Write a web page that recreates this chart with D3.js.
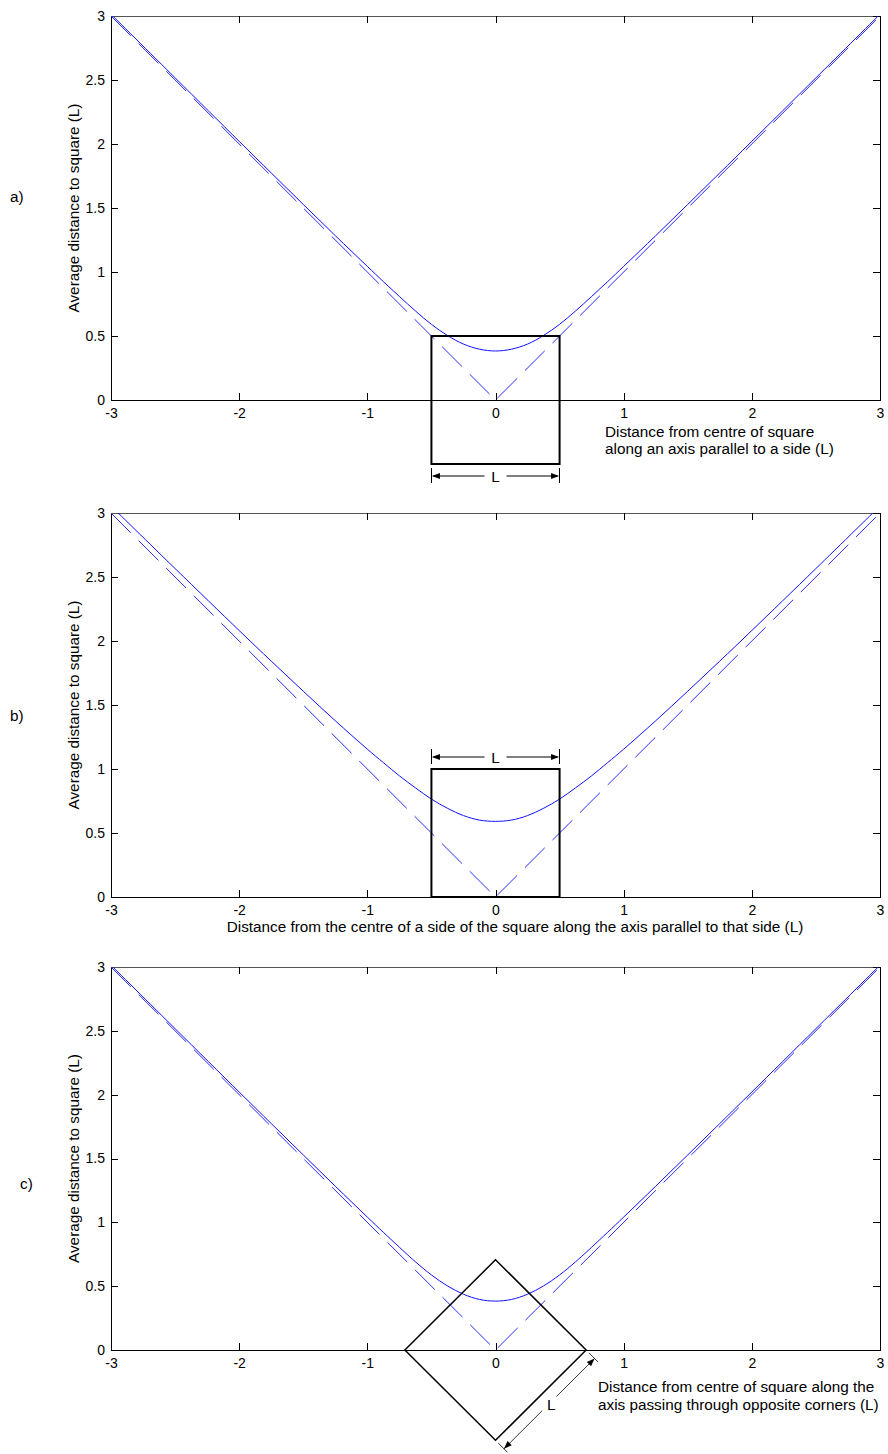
<!DOCTYPE html>
<html><head><meta charset="utf-8">
<script src="https://cdn.jsdelivr.net/npm/d3@7"></script>
<style>body{margin:0;background:#fff} svg{display:block} text{font-family:"Liberation Sans",Arial,Helvetica,sans-serif}</style>
</head><body><svg id="chart" width="888" height="1454"></svg>
<script>
// ---------- data ----------
const xTicks = [-3, -2, -1, 0, 1, 2, 3];
const xTickLabels = ["-3", "-2", "-1", "0", "1", "2", "3"];
const yTicks = [0, 0.5, 1, 1.5, 2, 2.5, 3];
const yTickLabels = ["0", "0.5", "1", "1.5", "2", "2.5", "3"];

const xsAB = [-3, -2.5, -2, -1.75, -1.5, -1.25, -1, -0.875, -0.75, -0.625, -0.5, -0.375, -0.25, -0.125, 0,
              0.125, 0.25, 0.375, 0.5, 0.625, 0.75, 0.875, 1, 1.25, 1.5, 1.75, 2, 2.5, 3];
const solidA = [3.014, 2.517, 2.021, 1.774, 1.528, 1.284, 1.044, 0.925, 0.809, 0.696, 0.591, 0.504, 0.437, 0.397, 0.383,
                0.397, 0.437, 0.504, 0.591, 0.696, 0.809, 0.925, 1.044, 1.284, 1.528, 1.774, 2.021, 2.517, 3.014];
const solidB = [3.055, 2.566, 2.082, 1.843, 1.608, 1.377, 1.155, 1.050, 0.947, 0.853, 0.765, 0.693, 0.636, 0.601, 0.591,
                0.601, 0.636, 0.693, 0.765, 0.853, 0.947, 1.050, 1.155, 1.377, 1.608, 1.843, 2.082, 2.566, 3.055];
const xsC = [-3, -2.5, -2, -1.75, -1.5, -1.25, -1, -0.875, -0.75, -0.7071, -0.625, -0.5, -0.375, -0.25, -0.125, 0,
             0.125, 0.25, 0.375, 0.5, 0.625, 0.7071, 0.75, 0.875, 1, 1.25, 1.5, 1.75, 2, 2.5, 3];
const solidC = [3.014, 2.517, 2.021, 1.774, 1.528, 1.283, 1.041, 0.922, 0.805, 0.765, 0.691, 0.588, 0.502, 0.437, 0.396, 0.383,
                0.396, 0.437, 0.502, 0.588, 0.691, 0.765, 0.805, 0.922, 1.041, 1.283, 1.528, 1.774, 2.021, 2.517, 3.014];
const dashX = [-3, 0, 3];
const dashY = [3, 0, 3];

const squareA = [[-0.5, -0.5], [0.5, -0.5], [0.5, 0.5], [-0.5, 0.5]];
const squareB = [[-0.5, 0], [0.5, 0], [0.5, 1], [-0.5, 1]];
const diamondC = [[-0.7071, 0], [0, 0.7071], [0.7071, 0], [0, -0.7071]];

const panelLabels = ["a)", "b)", "c)"];
const yLabel = "Average distance to square (L)";
const xLabelA = ["Distance from centre of square", "along an axis parallel to a side (L)"];
const xLabelB = "Distance from the centre of a side of the square along the axis parallel to that side (L)";
const xLabelC = ["Distance from centre of square along the", "axis passing through opposite corners (L)"];

// ---------- layout ----------
const svg = d3.select("#chart");
const X0 = 111, X1 = 880;
const FT = 14;    // tick labels
const FL = 15.3;  // other texts
const FF = '"Liberation Sans", Arial, sans-serif';
const panels = [
  {top: 16, bottom: 400, xs: xsAB, ys: solidA, shape: squareA, sw: 2, label: panelLabels[0], lx: 10, ly: 202},
  {top: 513, bottom: 897, xs: xsAB, ys: solidB, shape: squareB, sw: 2, label: panelLabels[1], lx: 10, ly: 721},
  {top: 967, bottom: 1350, xs: xsC, ys: solidC, shape: diamondC, sw: 1.5, label: panelLabels[2], lx: 20, ly: 1189}
];
const x = d3.scaleLinear().domain([-3, 3]).range([X0, X1]);

function styleAxis(g) {
  g.attr("font-size", FT).attr("font-family", FF);
  g.selectAll("path.domain").attr("stroke", "#000").attr("shape-rendering", "crispEdges");
  g.selectAll(".tick line").attr("stroke", "#000").attr("shape-rendering", "crispEdges");
  g.selectAll("text").attr("fill", "#000");
}

function arrowHead(g, tip, dir, len = 8, hw = 3) {
  const bx = tip[0] - dir[0] * len, by = tip[1] - dir[1] * len;
  const px = -dir[1], py = dir[0];
  g.append("path")
    .attr("d", `M${tip[0]},${tip[1]}L${bx + px * hw},${by + py * hw}L${bx - px * hw},${by - py * hw}Z`)
    .attr("fill", "#000");
}

panels.forEach((p, i) => {
  const y = d3.scaleLinear().domain([0, 3]).range([p.bottom, p.top]);
  const g = svg.append("g");
  const cid = "clip" + i;
  svg.append("clipPath").attr("id", cid).append("rect")
    .attr("x", X0).attr("y", p.top).attr("width", X1 - X0).attr("height", p.bottom - p.top);

  g.append("g").attr("transform", `translate(0,${p.bottom})`)
    .call(d3.axisBottom(x).tickValues(xTicks).tickFormat((d, k) => xTickLabels[k])
      .tickSizeInner(-7).tickSizeOuter(0).tickPadding(8)).call(styleAxis);
  g.append("g").attr("transform", `translate(${X0},0)`)
    .call(d3.axisLeft(y).tickValues(yTicks).tickFormat((d, k) => yTickLabels[k])
      .tickSizeInner(-7).tickSizeOuter(0).tickPadding(6)).call(styleAxis);
  const gt = g.append("g").attr("transform", `translate(0,${p.top})`)
    .call(d3.axisTop(x).tickValues(xTicks).tickFormat("").tickSizeInner(-7).tickSizeOuter(0)).call(styleAxis);
  gt.select("path.domain").attr("stroke", "#555").attr("stroke-width", 1.6);
  g.append("g").attr("transform", `translate(${X1},0)`)
    .call(d3.axisRight(y).tickValues(yTicks).tickFormat("").tickSizeInner(-7).tickSizeOuter(0)).call(styleAxis);

  const line = d3.line().x(d => x(d[0])).y(d => y(d[1])).curve(d3.curveCatmullRom.alpha(0.5));
  const lin = d3.line().x(d => x(d[0])).y(d => y(d[1]));
  const cg = g.append("g").attr("clip-path", `url(#${cid})`);
  cg.append("path").datum(dashX.map((v, k) => [v, dashY[k]])).attr("d", lin)
    .attr("fill", "none").attr("stroke", "#2b2bff").attr("stroke-width", 1).attr("stroke-dasharray", "28,11");
  cg.append("path").datum(p.xs.map((v, k) => [v, p.ys[k]])).attr("d", line)
    .attr("fill", "none").attr("stroke", "#1010ff").attr("stroke-width", 1);

  g.append("path").datum(p.shape).attr("d", d => "M" + d.map(c => [x(c[0]), y(c[1])].join(",")).join("L") + "Z")
    .attr("fill", "none").attr("stroke", "#000").attr("stroke-width", p.sw).attr("stroke-linejoin", "miter");

  g.append("text").attr("x", p.lx).attr("y", p.ly).attr("font-size", FL).text(p.label);
  g.append("text").attr("transform", `translate(79,${(p.top + p.bottom) / 2}) rotate(-90)`)
    .attr("text-anchor", "middle").attr("font-size", FL).text(yLabel);

  if (i < 2) {
    const yy = i === 0 ? y(-0.5) + 12 : y(1) - 12;
    const xl = x(-0.5), xr = x(0.5), xm = x(0);
    const dg = g.append("g");
    [xl, xr].forEach(xx => dg.append("line").attr("x1", xx).attr("x2", xx).attr("y1", yy - 8).attr("y2", yy + 7)
      .attr("stroke", "#000").attr("stroke-width", 1).attr("shape-rendering", "crispEdges"));
    dg.append("line").attr("x1", xl + 2).attr("x2", xm - 11).attr("y1", yy).attr("y2", yy).attr("stroke", "#000");
    dg.append("line").attr("x1", xm + 11).attr("x2", xr - 2).attr("y1", yy).attr("y2", yy).attr("stroke", "#000");
    arrowHead(dg, [xl + 0.5, yy], [-1, 0]);
    arrowHead(dg, [xr - 0.5, yy], [1, 0]);
    dg.append("text").attr("x", xm).attr("y", yy + 5.5).attr("text-anchor", "middle").attr("font-size", FL).text("L");
  } else {
    const R = [x(0.7071), y(0)], B = [x(0), y(-0.7071)];
    const L = Math.hypot(B[0] - R[0], B[1] - R[1]);
    const u = [(B[0] - R[0]) / L, (B[1] - R[1]) / L];
    const n = [u[1], -u[0]];
    const off = 12;
    const P1 = [R[0] + n[0] * off, R[1] + n[1] * off], P2 = [B[0] + n[0] * off, B[1] + n[1] * off];
    const M = [(P1[0] + P2[0]) / 2, (P1[1] + P2[1]) / 2];
    const dg = g.append("g");
    [R, B].forEach(c => dg.append("line")
      .attr("x1", c[0] + n[0] * 4).attr("y1", c[1] + n[1] * 4)
      .attr("x2", c[0] + n[0] * 17).attr("y2", c[1] + n[1] * 17).attr("stroke", "#000").attr("stroke-width", 0.8));
    const gap = 10;
    dg.append("line").attr("x1", P1[0]).attr("y1", P1[1])
      .attr("x2", M[0] - u[0] * gap).attr("y2", M[1] - u[1] * gap).attr("stroke", "#000").attr("stroke-width", 0.8);
    dg.append("line").attr("x1", M[0] + u[0] * gap).attr("y1", M[1] + u[1] * gap)
      .attr("x2", P2[0]).attr("y2", P2[1]).attr("stroke", "#000").attr("stroke-width", 0.8);
    arrowHead(dg, P1, [-u[0], -u[1]]);
    arrowHead(dg, P2, u);
    dg.append("text").attr("x", M[0] + 2).attr("y", M[1] + 6).attr("text-anchor", "middle").attr("font-size", FL).text("L");
  }
});

svg.append("text").attr("x", 605).attr("y", 437).attr("font-size", FL).text(xLabelA[0]);
svg.append("text").attr("x", 605).attr("y", 454).attr("font-size", FL).text(xLabelA[1]);
svg.append("text").attr("x", 515).attr("y", 932).attr("text-anchor", "middle").attr("font-size", FL).text(xLabelB);
svg.append("text").attr("x", 598).attr("y", 1392).attr("font-size", FL).text(xLabelC[0]);
svg.append("text").attr("x", 598).attr("y", 1410).attr("font-size", FL).text(xLabelC[1]);
</script></body></html>
